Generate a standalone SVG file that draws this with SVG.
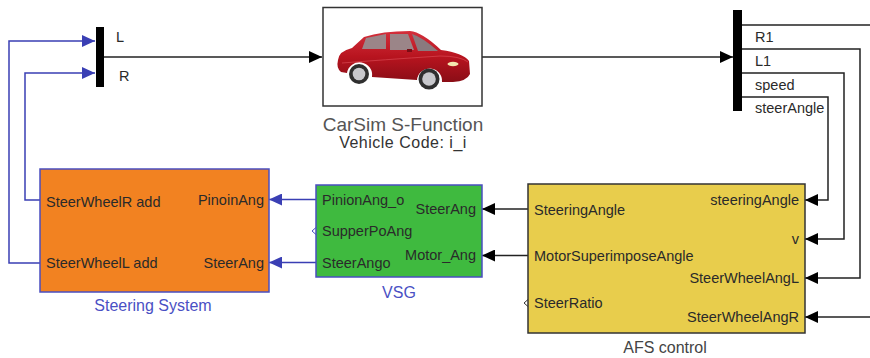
<svg xmlns="http://www.w3.org/2000/svg" width="870" height="358" viewBox="0 0 870 358">
  <defs>
    <style>
      .lbl { font-family: "Liberation Sans", Arial, sans-serif; font-size: 14.5px; fill: #2a2a2a; }
      .end { text-anchor: end; }
      .cap { font-family: "Liberation Sans", Arial, sans-serif; text-anchor: middle; }
      .wire { fill: none; stroke: #222; stroke-width: 1.5; }
      .bwire { fill: none; stroke: #3a3fb4; stroke-width: 1.5; }
      .bar { fill: #000; }
    </style>
    <marker id="ak" viewBox="0 0 10 10" refX="10" refY="5" markerWidth="13" markerHeight="12" markerUnits="userSpaceOnUse" orient="auto" preserveAspectRatio="none">
      <path d="M0,0 L10,5 L0,10 Z" fill="#000"/>
    </marker>
    <marker id="ab" viewBox="0 0 10 10" refX="10" refY="5" markerWidth="13" markerHeight="12" markerUnits="userSpaceOnUse" orient="auto" preserveAspectRatio="none">
      <path d="M0,0 L10,5 L0,10 Z" fill="#3a3fb4"/>
    </marker>
    <linearGradient id="paint" x1="0" y1="0" x2="0" y2="1">
      <stop offset="0" stop-color="#d4303c"/>
      <stop offset="0.5" stop-color="#b8141f"/>
      <stop offset="1" stop-color="#8a0d16"/>
    </linearGradient>
  </defs>
  <rect width="870" height="358" fill="#fff"/>

  <!-- wiring -->
  <g id="connectors">
    <path class="bwire" d="M40,263 H9 V41 H95" marker-end="url(#ab)"/>
    <path class="bwire" d="M40,200 H25 V73 H95" marker-end="url(#ab)"/>
    <path class="bwire" d="M316,199.5 H269" marker-end="url(#ab)"/>
    <path class="bwire" d="M316,262.5 H269" marker-end="url(#ab)"/>
    <path class="wire" d="M104,57 H322" marker-end="url(#ak)"/>
    <path class="wire" d="M482,57 H733" marker-end="url(#ak)"/>
    <path class="wire" d="M742,25 H870"/>
    <path class="wire" d="M742,49 H860 V278 H805" marker-end="url(#ak)"/>
    <path class="wire" d="M742,73 H844 V239 H805" marker-end="url(#ak)"/>
    <path class="wire" d="M742,97 H828 V200 H805" marker-end="url(#ak)"/>
    <path class="wire" d="M870,317 H805" marker-end="url(#ak)"/>
    <path class="wire" d="M528,209 H482" marker-end="url(#ak)"/>
    <path class="wire" d="M528,255.5 H482" marker-end="url(#ak)"/>
  </g>

  <!-- left mux -->
  <g id="mux-LR">
    <rect class="bar" x="96" y="27" width="8" height="60"/>
    <text class="lbl" x="116" y="42">L</text>
    <text class="lbl" x="119" y="81">R</text>
  </g>

  <!-- CarSim vehicle block -->
  <g id="carsim">
    <rect x="323" y="7.5" width="159" height="98.5" fill="#fff" stroke="#333" stroke-width="1.5"/>
    <g id="car">
      <path d="M338,60 Q339,51 352,48 L364,37 Q382,31 410,31 Q422,32 441,50 Q463,53 469,61 L470,74 Q467,81 453,82 L442,82 A12,12 0 0 0 417,80 L372,77 A12,12 0 0 0 347,73 L341,72 Q336,68 338,60 Z" fill="url(#paint)"/>
      <path d="M342,63 Q380,60 440,56 Q460,56 468,62" fill="none" stroke="#e0505a" stroke-width="1" opacity="0.6"/>
      <path d="M366,38 L386,34 L386,49 L362,49 Z" fill="#9b8588"/>
      <path d="M390,34 L408,34 L414,50 L390,50 Z" fill="#9b8588"/>
      <path d="M412,34 Q422,37 438,51 L418,51 Z" fill="#8a7a7e"/>
      <rect x="407" y="49" width="5" height="3" fill="#7a0c14"/>
      <ellipse cx="453" cy="64" rx="5.5" ry="2.2" fill="#f3e8b0"/>
      <circle cx="359" cy="74" r="10" fill="#2f2f2f"/>
      <circle cx="359" cy="74" r="6.3" fill="#c8c8cc"/>
      <circle cx="429" cy="79" r="10.5" fill="#2f2f2f"/>
      <circle cx="429" cy="79" r="6.8" fill="#c8c8cc"/>
    </g>
    <text class="cap" x="403" y="131" font-size="19" fill="#555">CarSim S-Function</text>
    <text class="cap" x="403" y="148" font-size="16" letter-spacing="0.5" fill="#333">Vehicle Code: i_i</text>
  </g>

  <!-- right bus selector -->
  <g id="mux-out">
    <rect class="bar" x="733" y="10" width="9" height="101"/>
    <text class="lbl" x="755" y="42">R1</text>
    <text class="lbl" x="755" y="66">L1</text>
    <text class="lbl" x="755" y="90">speed</text>
    <text class="lbl" x="755" y="113">steerAngle</text>
  </g>

  <!-- steering system subsystem -->
  <g id="steering-system">
    <rect x="40" y="169" width="229" height="123" fill="#f28221" stroke="#4a4ec0" stroke-width="1.5"/>
    <text class="lbl" x="46" y="207">SteerWheelR add</text>
    <text class="lbl" x="46" y="268">SteerWheelL add</text>
    <text class="lbl end" x="264" y="205">PinoinAng</text>
    <text class="lbl end" x="264" y="268">SteerAng</text>
    <text class="cap" x="153" y="311" font-size="16" fill="#4a50c4">Steering System</text>
  </g>

  <!-- VSG subsystem -->
  <g id="vsg">
    <rect x="316" y="185" width="166" height="92" fill="#3fba3f" stroke="#4a4ec0" stroke-width="1.5"/>
    <path d="M316,227.5 L312,231 L316,234.5" fill="none" stroke="#4a4ec0" stroke-width="1"/>
    <text class="lbl" x="322" y="205">PinionAng_o</text>
    <text class="lbl" x="322" y="236">SupperPoAng</text>
    <text class="lbl" x="322" y="268">SteerAngo</text>
    <text class="lbl end" x="476" y="214">SteerAng</text>
    <text class="lbl end" x="476" y="260">Motor_Ang</text>
    <text class="cap" x="399" y="298" font-size="16" fill="#4a50c4">VSG</text>
  </g>

  <!-- AFS controller subsystem -->
  <g id="afs-control">
    <rect x="528" y="184" width="277" height="149" fill="#e8cd4c" stroke="#333" stroke-width="1.5"/>
    <path d="M528,299.5 L524,303 L528,306.5" fill="none" stroke="#333" stroke-width="1"/>
    <text class="lbl" x="534" y="215">SteeringAngle</text>
    <text class="lbl" x="534" y="261">MotorSuperimposeAngle</text>
    <text class="lbl" x="534" y="308">SteerRatio</text>
    <text class="lbl end" x="799" y="205">steeringAngle</text>
    <text class="lbl end" x="799" y="244">v</text>
    <text class="lbl end" x="799" y="283">SteerWheelAngL</text>
    <text class="lbl end" x="799" y="322">SteerWheelAngR</text>
    <text class="cap" x="665" y="353" font-size="16" fill="#444">AFS control</text>
  </g>
</svg>
